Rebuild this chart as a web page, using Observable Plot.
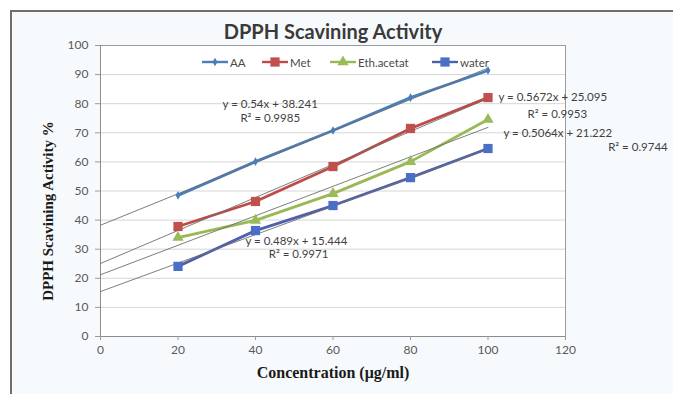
<!DOCTYPE html>
<html>
<head>
<meta charset="utf-8">
<script src="https://cdn.jsdelivr.net/npm/d3@7"></script>
<script src="https://cdn.jsdelivr.net/npm/@observablehq/plot@0.6"></script>
<style>
  html, body { margin: 0; padding: 0; background: #ffffff; }
  #wrap { position: relative; width: 673px; height: 394px; overflow: hidden; }
  #box { position: absolute; left: 10px; top: 10px; width: 680px; height: 400px;
         border: 2px solid #6f6f6f; background: #f7fafd; box-sizing: border-box; }
  #chart { position: absolute; left: 0; top: 0; }
  .leg { position: absolute; top: 55px; height: 14px; display: flex; align-items: center;
         font-family: Lato, "Open Sans", sans-serif; font-size: 11.5px; color: #4a4a4a; white-space: nowrap; }
  .leg svg { display: block; margin-right: 2px; }
</style>
</head>
<body>
<div id="wrap">
  <div id="box"></div>
  <div id="chart"></div>
</div>
<script>
// ---- data ----
const concentrations = [20, 40, 60, 80, 100];
const aaValues = [48.5, 60.1, 70.8, 82.1, 91.4];
const metValues = [37.8, 46.4, 58.4, 71.5, 82.1];
const ethValues = [34.0, 39.9, 49.1, 60.1, 74.6];
const waterValues = [24.1, 36.4, 45.0, 54.6, 64.6];
const seriesNames = ["AA", "Met", "Eth.acetat", "water"];

// trendline equations shown on the chart
const slopes = [0.54, 0.5672, 0.5064, 0.489];
const intercepts = [38.241, 25.095, 21.222, 15.444];
const equationLabels = ["y = 0.54x + 38.241", "y = 0.5672x + 25.095", "y = 0.5064x + 21.222", "y = 0.489x + 15.444"];
const r2Labels = ["R² = 0.9985", "R² = 0.9953", "R² = 0.9744", "R² = 0.9971"];

// ticks
const xTicks = [0, 20, 40, 60, 80, 100, 120];
const yTicks = [0, 10, 20, 30, 40, 50, 60, 70, 80, 90, 100];

// ---- styling / layout (not data) ----
const lineColors = ["#4a7ebb", "#be4b48", "#98b954", "#5060ad"];
const markerColors = ["#4a7ebb", "#c0504d", "#9bbb59", "#4a6fc6"];
const symbols = ["diamond", "square", "triangle", "square"];
const radii = [2.6, 5.2, 4.2, 5.2];
// annotation anchor positions (data units, text starts here)
const eqPos = [[31.5, 79.7], [102.7, 82.1], [104.0, 69.8], [37.4, 32.6]];
const r2Pos = [[36.1, 74.9], [110.2, 76.3], [131.0, 64.9], [43.4, 28.2]];

const valueSets = [aaValues, metValues, ethValues, waterValues];
const rows = seriesNames.flatMap((s, i) => concentrations.map((c, j) => ({series: s, x: c, y: valueSets[i][j]})));
const trendRows = seriesNames.flatMap((s, i) => [0, 100].map(x => ({series: s, x, y: slopes[i] * x + intercepts[i]})));
const notes = seriesNames.flatMap((s, i) => [
  {x: eqPos[i][0], y: eqPos[i][1], text: equationLabels[i]},
  {x: r2Pos[i][0], y: r2Pos[i][1], text: r2Labels[i]}
]);

const chart = Plot.plot({
  width: 673,
  height: 394,
  marginTop: 45,
  marginRight: 108,
  marginBottom: 58,
  marginLeft: 100,
  style: {background: "transparent", fontFamily: "Lato, 'Open Sans', sans-serif", fontSize: "12px"},
  x: {domain: [0, 120]},
  y: {domain: [0, 100]},
  color: {domain: seriesNames, range: lineColors},
  marks: [
    Plot.frame({fill: "white", stroke: null}),
    Plot.gridY(yTicks, {stroke: "#d6d6d6", strokeOpacity: 1}),
    Plot.frame({stroke: "#9a9a9a"}),
    Plot.ruleX([0], {stroke: "#8c8c8c"}),
    Plot.ruleY([0], {stroke: "#8c8c8c"}),
    Plot.axisY(yTicks, {tickSize: 5, tickPadding: 7, stroke: "#9a9a9a", fill: "#595959", fontSize: 12, label: null}),
    Plot.axisX(xTicks, {tickSize: 4, tickPadding: 5, stroke: "#9a9a9a", fill: "#595959", fontSize: 12, label: null}),
    Plot.line(rows, {x: "x", y: "y", z: "series", stroke: "series", strokeWidth: 2.8}),
    Plot.line(trendRows, {x: "x", y: "y", z: "series", stroke: "#6e6e6e", strokeWidth: 0.9}),
    ...seriesNames.map((s, i) => Plot.dot(rows.filter(d => d.series === s), {
      x: "x", y: "y", symbol: symbols[i], r: radii[i], fill: markerColors[i], stroke: null
    })),
    Plot.text(notes, {x: "x", y: "y", text: "text", textAnchor: "start", fontSize: 11.5, fill: "#3f3f3f", letterSpacing: "0.5px"}),
    Plot.text(["DPPH Scavining Activity"], {frameAnchor: "top", dy: -13, lineAnchor: "middle", textAnchor: "middle",
      fontSize: 20, fontWeight: "bold", fill: "#3a3a3a"}),
    Plot.text(["Concentration (μg/ml)"], {frameAnchor: "bottom", dy: 36, lineAnchor: "middle", textAnchor: "middle",
      fontSize: 16, fontWeight: "bold", fontFamily: "'Liberation Serif', serif", fill: "#1a1a1a", letterSpacing: "2px"}),
    Plot.text(["DPPH Scavining Activity %"], {frameAnchor: "left", rotate: -90, dx: -52, dy: 20,
      textAnchor: "middle", lineAnchor: "middle", fontSize: 15,
      fontWeight: "bold", fontFamily: "'Liberation Serif', serif", fill: "#1a1a1a", letterSpacing: "1px"})
  ]
});
document.getElementById("chart").appendChild(chart);

// legend (inside the plot area, at the top)
const legendLeft = [202, 262, 330, 432];
const wrap = document.getElementById("wrap");
seriesNames.forEach((s, i) => {
  const item = document.createElement("div");
  item.className = "leg";
  item.style.left = legendLeft[i] + "px";
  const sw = d3.create("svg").attr("width", 26).attr("height", 14);
  sw.append("line").attr("x1", 0).attr("x2", 26).attr("y1", 7).attr("y2", 7)
    .attr("stroke", lineColors[i]).attr("stroke-width", 2.4);
  const sym = {diamond: d3.symbolDiamond, square: d3.symbolSquare, triangle: d3.symbolTriangle}[symbols[i]];
  sw.append("path").attr("transform", "translate(13,7)")
    .attr("d", d3.symbol(sym, radii[i] * radii[i] * Math.PI)())
    .attr("fill", markerColors[i]);
  item.appendChild(sw.node());
  const t = document.createElement("span");
  t.textContent = s;
  item.appendChild(t);
  wrap.appendChild(item);
});
</script>
</body>
</html>
